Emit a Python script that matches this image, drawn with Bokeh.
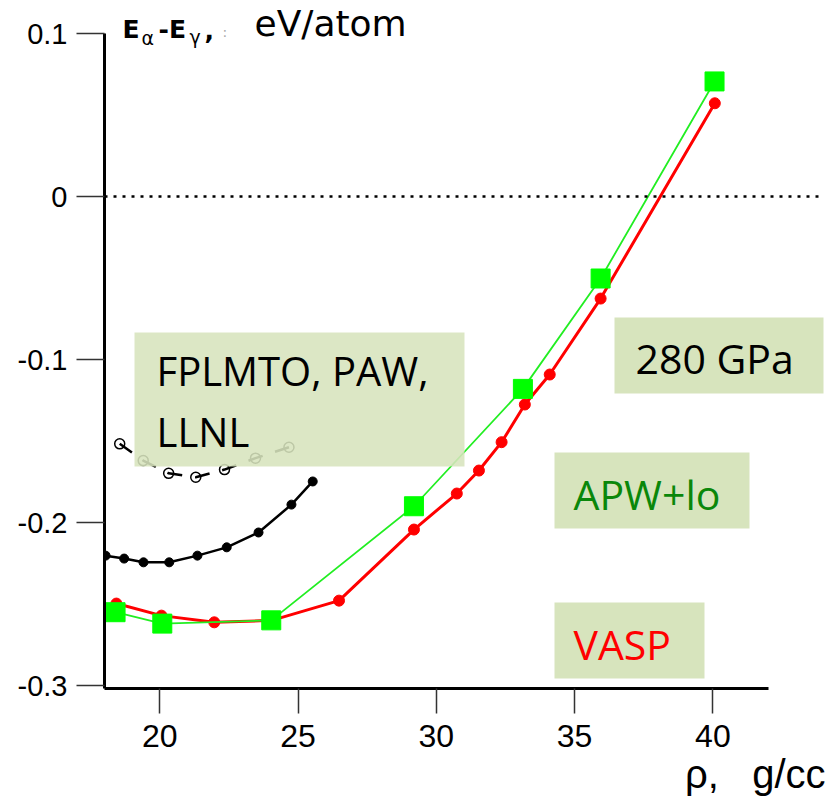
from bokeh.plotting import figure
from bokeh.models import Range1d, FixedTicker, Span, Label, BoxAnnotation, Title
from bokeh.embed import file_html
from bokeh.resources import INLINE

# ---------------- data ----------------
vasp_rho = [18.43, 20.06, 21.97, 24.05, 26.48, 29.19, 30.74, 31.54, 32.36, 33.20, 34.10, 35.94, 40.07]
vasp_de = [-0.2497, -0.2571, -0.2612, -0.2600, -0.2479, -0.2043, -0.1822, -0.1681, -0.1507, -0.1276, -0.1092, -0.0626, 0.0572]

apw_rho = [18.40, 20.09, 24.03, 29.19, 33.13, 35.94, 40.06]
apw_de = [-0.255, -0.262, -0.260, -0.190, -0.118, -0.0503, 0.0706]

fplmto_rho = [18.04, 18.71, 19.41, 20.34, 21.36, 22.42, 23.57, 24.76, 25.53]
fplmto_de = [-0.2203, -0.2221, -0.2244, -0.2244, -0.2203, -0.2152, -0.2061, -0.1890, -0.1748]

llnl_rho = [18.55, 19.40, 20.32, 21.30, 22.34, 23.46, 24.67]
llnl_de = [-0.1517, -0.1620, -0.1698, -0.1722, -0.1675, -0.1605, -0.1538]

x_ticks = [20, 25, 30, 35, 40]
y_ticks = [-0.3, -0.2, -0.1, 0, 0.1]

# ---------------- layout ----------------
W, H = 829, 805
BL, BR, BB = 104, 6, 117
X0, X1 = 18, 44
Y0, YTOP_AX = -0.3018, 0.1          # axis extent
AX_TOP_PX = 33                        # pixel row of the 0.1 tick
FW = W - BL - BR
FH = H - BB                           # frame reaches the top of the page
UNITS_PER_PX = (YTOP_AX - Y0) / (FH - AX_TOP_PX)
Y1 = Y0 + FH * UNITS_PER_PX


def dx(px):
    return X0 + (px - BL) / FW * (X1 - X0)


def dy(py):
    return Y1 - py * UNITS_PER_PX


p = figure(width=W, height=H, x_range=Range1d(X0, X1), y_range=Range1d(Y0, Y1),
           output_backend="svg", toolbar_location=None,
           min_border_left=BL, min_border_right=BR, min_border_top=0, min_border_bottom=BB)
p.xgrid.visible = False
p.ygrid.visible = False
p.outline_line_color = None
p.background_fill_color = "white"
p.border_fill_color = "white"

# axes
for ax in (p.xaxis[0], p.yaxis[0]):
    ax.axis_line_width = 3
    ax.axis_line_color = "black"
    ax.major_tick_in = 0
    ax.minor_tick_line_color = None
    ax.major_tick_line_width = 1.5
    ax.major_tick_line_color = "#333333"
    ax.major_label_text_font = "Liberation Sans"
    ax.major_label_text_color = "black"

p.yaxis.ticker = FixedTicker(ticks=y_ticks)
p.yaxis.bounds = (Y0, YTOP_AX)
p.yaxis.major_tick_out = 28
p.yaxis.major_label_standoff = 9
p.yaxis.major_label_text_font_size = "29px"
p.yaxis.major_label_overrides = {-0.3: "-0.3", -0.2: "-0.2", -0.1: "-0.1", 0: "0", 0.1: "0.1"}

p.xaxis.ticker = FixedTicker(ticks=x_ticks)
p.xaxis.bounds = (18, 42)
p.xaxis.major_tick_out = 25
p.xaxis.major_label_standoff = 11
p.xaxis.major_label_text_font_size = "32px"

# x-axis title, right-aligned below the axis
p.add_layout(Title(text="\u03c1,\u00a0\u00a0 g/cc", align="right", text_font="Liberation Sans",
                   text_font_size="40px", text_font_style="normal", text_color="black",
                   standoff=0, offset=-2), "below")

# zero line
p.add_layout(Span(location=0, dimension="width", line_color="black", line_width=2.5, line_dash="3 6"))

# LLNL open circles with dashed line
p.line(llnl_rho, llnl_de, line_color="black", line_width=2.5, line_dash="15 13")
p.scatter(llnl_rho, llnl_de, marker="circle", size=10, fill_color=None, line_color="black", line_width=1.5)

# FPLMTO / PAW filled black
p.line(fplmto_rho, fplmto_de, line_color="black", line_width=2.5)
p.scatter(fplmto_rho, fplmto_de, marker="circle", size=9, fill_color="black", line_color="black")

# VASP red
p.line(vasp_rho, vasp_de, line_color="#ff0000", line_width=3)
p.scatter(vasp_rho, vasp_de, marker="circle", size=11, fill_color="#ff0000", line_color="#ff0000")

# APW+lo green
p.line(apw_rho, apw_de, line_color="#22ee22", line_width=1.8)
p.scatter(apw_rho, apw_de, marker="square", size=19, fill_color="#00ff00", line_color="#00ff00")

# label boxes
BOX = "#d7e4bd"
boxes = [
    (134, 464, 332, 466, 0.88),
    (614, 825, 317, 393, 1.0),
    (554, 749, 452, 528, 1.0),
    (554, 704, 602, 678, 1.0),
]
for l, r, t, b, a in boxes:
    p.add_layout(BoxAnnotation(left=dx(l), right=dx(r), top=dy(t), bottom=dy(b),
                               fill_color=BOX, fill_alpha=a, line_color=None))


def lab(px, py, text, font="Open Sans", size=41, color="black", style="normal", align="left"):
    # py is the wanted baseline row; Label's alphabetic anchor sits ~0.4 em above it
    p.add_layout(Label(x=dx(px), y=dy(py - 0.4 * size), text=text, text_font=font,
                       text_font_size=f"{size}px", text_color=color, text_font_style=style,
                       text_align=align, text_baseline="alphabetic"))


lab(156, 386, "FPLMTO, PAW,", size=40)
lab(156, 447, "LLNL", size=40)
lab(635, 374, "280 GPa")
lab(573, 510, "APW+lo", color="#0a870a")
lab(573, 660, "VASP", color="#ff0000")

# y-axis title pieces
lab(122, 39, "E", font="DejaVu Sans", size=25, style="bold")
lab(141, 45, "\u03b1", font="DejaVu Sans", size=19)
lab(158, 39, "-E", font="DejaVu Sans", size=25, style="bold")
lab(189, 44, "\u03b3", font="DejaVu Sans", size=19)
lab(204, 39, ",", font="DejaVu Sans", size=25, style="bold")
lab(222, 37, ":", font="DejaVu Sans", size=14, color="#aaaaaa")
lab(254, 37, "eV/atom", font="DejaVu Sans", size=36)

open("out.html", "w").write(file_html(p, INLINE))
